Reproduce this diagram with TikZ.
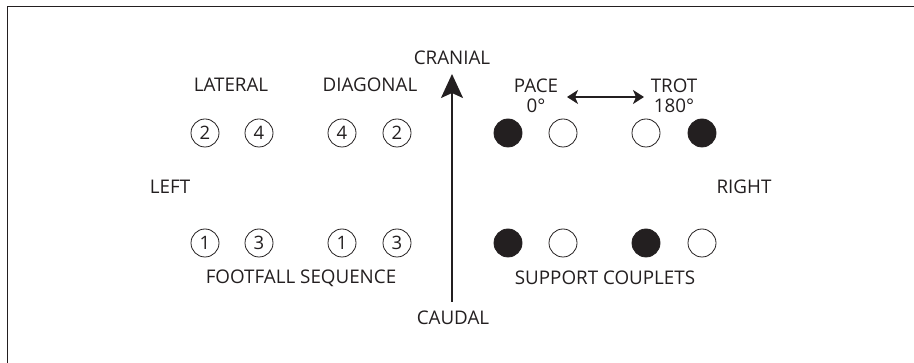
\documentclass[tikz,border=0pt]{standalone}
\usepackage{fontspec}
\setmainfont{Open Sans}
\usetikzlibrary{arrows.meta}
\definecolor{ink}{HTML}{231F20}
\tikzset{
  lbl/.style={inner sep=0pt, text=ink, font=\fontsize{18.8}{20}\selectfont},
  numc/.style={circle, draw=ink, line width=0.8pt, minimum size=28pt, inner sep=0pt, text=ink, font=\fontsize{18.5}{20}\selectfont},
  opendot/.style={circle, draw=ink, line width=0.8pt, minimum size=28pt, inner sep=0pt},
  fulldot/.style={circle, draw=ink, fill=ink, line width=0.8pt, minimum size=28pt, inner sep=0pt},
  bigarrow/.style={draw=ink, line width=2pt, -{Stealth[length=24pt, width=22pt, inset=5pt]}},
  dblarrow/.style={draw=ink, line width=1.6pt, {Stealth[length=11pt, width=14pt, inset=3pt]}-{Stealth[length=11pt, width=14pt, inset=3pt]}},
  frameline/.style={draw=ink, line width=1.8pt}
}
\begin{document}
\begin{tikzpicture}[x=1pt,y=-1pt]
\useasboundingbox (0,0) rectangle (914,363);
\coordinate (fbl) at (7.5,364);
\coordinate (ftl) at (7.5,6.5);
\coordinate (ftr) at (915,6.5);
\draw[frameline] (fbl) -- (ftl) -- (ftr);

% axis labels
\node[lbl] (cranial) at (452,58) {CRANIAL};
\node[lbl] (caudal) at (453,318) {CAUDAL};
\node[lbl] (left) at (170,187) {LEFT};
\node[lbl] (right) at (744,187) {RIGHT};
\coordinate (axtop) at (452,74);
\coordinate (axbot) at (452,302);
\draw[bigarrow] (axbot) -- (axtop);

% footfall sequence
\node[lbl] (lateral) at (231,85) {LATERAL};
\node[lbl] (diagonal) at (370,85) {DIAGONAL};
\node[numc] (l2) at (205,133) {2};
\node[numc] (l4) at (259,133) {4};
\node[numc] (d4) at (342,133) {4};
\node[numc] (d2) at (397,133) {2};
\node[numc] (l1) at (205,243) {1};
\node[numc] (l3) at (259,243) {3};
\node[numc] (d1) at (342,243) {1};
\node[numc] (d3) at (397,243) {3};
\node[lbl] (footfall) at (301,278) {FOOTFALL SEQUENCE};

% support couplets
\node[lbl, align=center] (pace) at (536,96) {PACE\\0°};
\node[lbl, align=center] (trot) at (674,96) {TROT\\180°};
\coordinate (pa) at (567,97);
\coordinate (ta) at (644,97);
\draw[dblarrow] (pa) -- (ta);
\node[fulldot] (p1) at (508,133) {};
\node[opendot] (p2) at (563,133) {};
\node[opendot] (t1) at (646,133) {};
\node[fulldot] (t2) at (702,133) {};
\node[fulldot] (p3) at (508,243) {};
\node[opendot] (p4) at (563,243) {};
\node[fulldot] (t3) at (646,243) {};
\node[opendot] (t4) at (702,243) {};
\node[lbl] (support) at (605,278) {SUPPORT COUPLETS};
\end{tikzpicture}
\end{document}
